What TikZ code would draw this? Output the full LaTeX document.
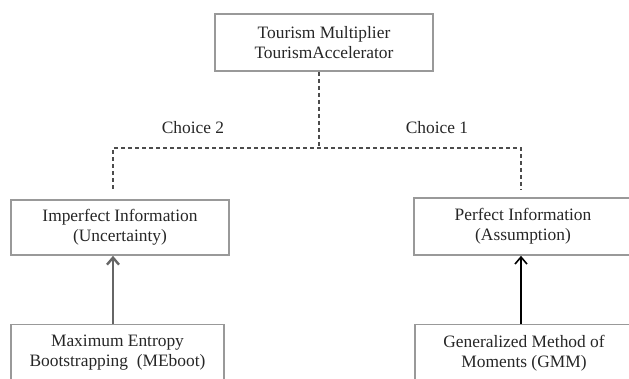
\documentclass[tikz,border=0pt]{standalone}
\usepackage{fontspec}
\setmainfont{Liberation Serif}
\usetikzlibrary{positioning,arrows.meta}

\begin{document}
\begin{tikzpicture} [
                x=1pt, y=1pt,
                box/.style={
                    rectangle,
                    draw=black!40,
                    line width=1.6pt,
                    align=center,
                    text=black!85,
                    font=\fontsize{17.4}{20}\selectfont,
                    minimum width=218pt,
                    minimum height=57pt
                },
                choiceline/.style={
                    draw=black!70,
                    line width=1.4pt,
                    dash pattern=on 4pt off 3pt
                },
                choicelabel/.style={
                    text=black!85,
                    font=\fontsize{17.4}{20}\selectfont
                },
                uparrow/.style={
                    line width=1.6pt,
                    -{Straight Barb[length=7pt,width=12pt]}
                }
            ]

                \useasboundingbox (0,0) rectangle (629,378);
                \clip (0,0) rectangle (629,378);

                \node[box]                      (tourism)   at (324,335.5)                                          {Tourism Multiplier\\TourismAccelerator};
                \node[box, minimum height=55pt] (imperf)    at (120,150.5)                                          {Imperfect Information\\(Uncertainty)};
                \node[box]                      (perf)      at (523,151.5)                                          {Perfect Information\\(Assumption)};
                \node[box, minimum width=213pt] (meboot)    [below right=68pt and 0pt of imperf.south west, anchor=north west] {Maximum Entropy\\Bootstrapping\ \ (MEboot)};
                \node[box]                      (gmm)       [below right=68pt and 1pt of perf.south west, anchor=north west]   {Generalized Method of\\Moments (GMM)};

                \coordinate (split)     at (319,230);
                \coordinate (leftend)   at (113,189);
                \coordinate (rightend)  at (521,188);

                \node[choicelabel]              (choice2)   at (193,250)    {Choice 2};
                \node[choicelabel]              (choice1)   at (437,250)    {Choice 1};

                \draw[choiceline] (tourism.south -| split) -- (split);
                \draw[choiceline] (leftend) |- (split) -| (rightend);

                \draw[uparrow, draw=black!60, line width=2.4pt] (meboot.north -| leftend)   -- (imperf.south -| leftend);
                \draw[uparrow, draw=black]                      (gmm.north -| rightend)     -- (perf.south -| rightend);

            \end{tikzpicture}
\end{document}
